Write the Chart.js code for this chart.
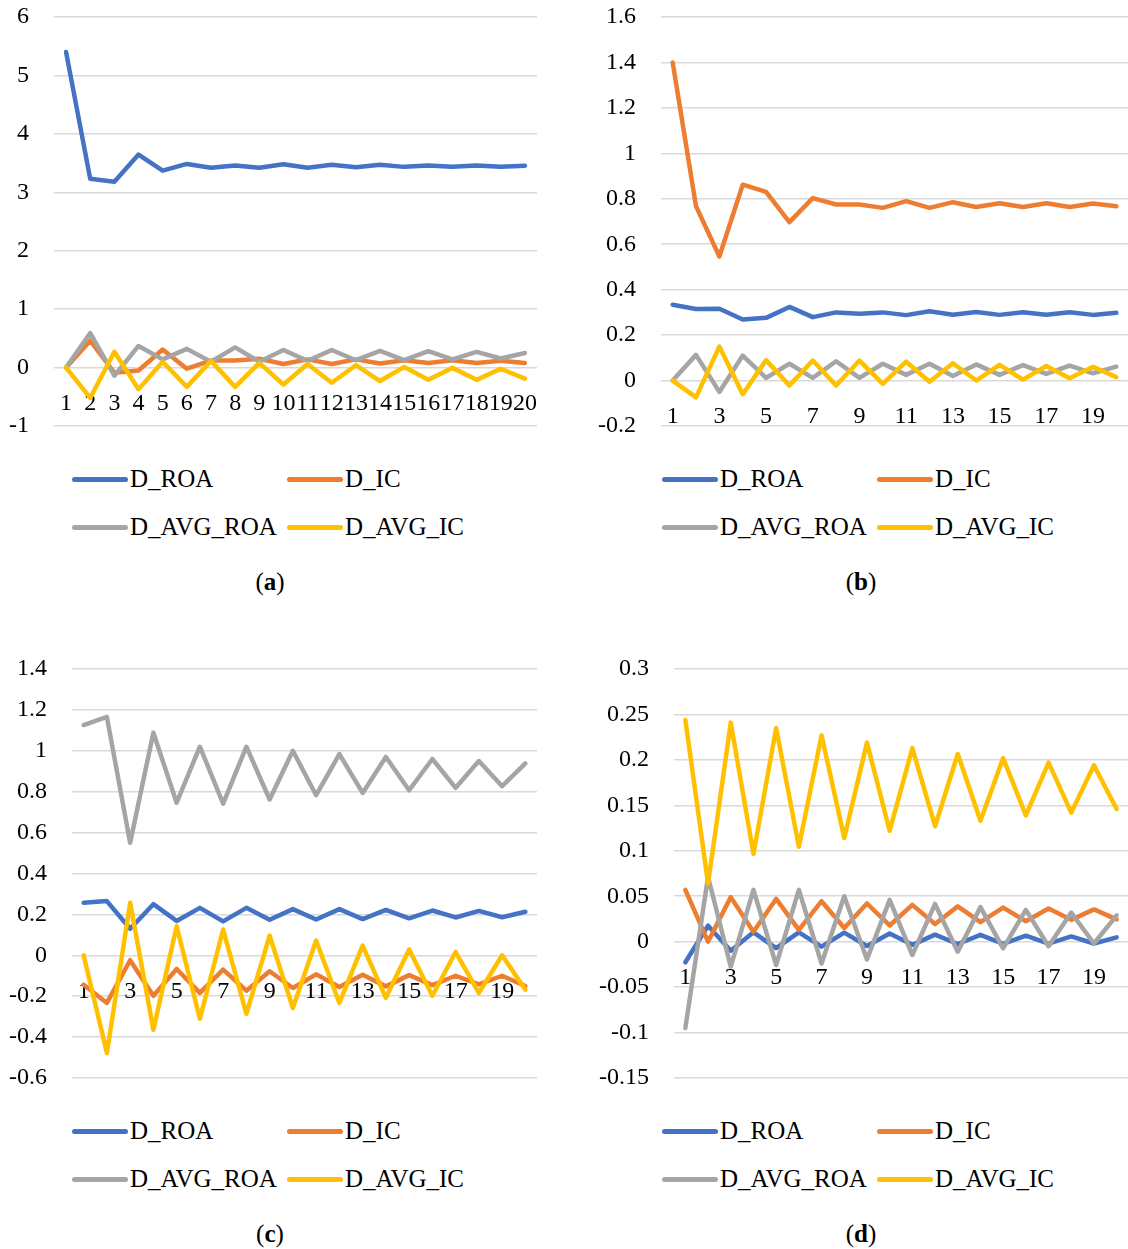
<!DOCTYPE html>
<html>
<head>
<meta charset="utf-8">
<script src="https://cdn.jsdelivr.net/npm/chart.js@4"></script>
<style>
  body { margin: 0; background: #fff; }
  #page { position: relative; width: 1128px; height: 1249px; overflow: hidden; font-family: "Liberation Serif", serif; color: #000; }
  canvas { position: absolute; }
  .leg { position: absolute; height: 30px; display: flex; align-items: center; font-size: 25px; white-space: nowrap; }
  .leg .ln { display: inline-block; width: 56px; height: 5px; border-radius: 3px; margin-right: 2px; }
  .cap { position: absolute; width: 100px; height: 30px; line-height: 30px; text-align: center; font-size: 25px; }
</style>
</head>
<body>
<div id="page">
  <canvas id="chartA" width="545" height="440" style="left:0;top:0"></canvas>
  <canvas id="chartB" width="538" height="440" style="left:590px;top:0"></canvas>
  <canvas id="chartC" width="545" height="440" style="left:0;top:650px"></canvas>
  <canvas id="chartD" width="538" height="440" style="left:590px;top:650px"></canvas>
</div>
<script>
const categories = ['1','2','3','4','5','6','7','8','9','10','11','12','13','14','15','16','17','18','19','20'];
const seriesNames = ['D_ROA', 'D_IC', 'D_AVG_ROA', 'D_AVG_IC'];
const seriesColors = ['#4472C4', '#ED7D31', '#A5A5A5', '#FFC000'];

// (a)
const aRoa    = [5.40, 3.23, 3.18, 3.645, 3.37, 3.485, 3.42, 3.46, 3.42, 3.48, 3.42, 3.47, 3.43, 3.47, 3.435, 3.46, 3.435, 3.46, 3.435, 3.455];
const aIc     = [0, 0.46, -0.09, -0.05, 0.31, -0.02, 0.12, 0.12, 0.15, 0.06, 0.14, 0.06, 0.14, 0.07, 0.125, 0.08, 0.125, 0.08, 0.115, 0.08];
const aAvgRoa = [0, 0.59, -0.14, 0.37, 0.14, 0.32, 0.1, 0.345, 0.1, 0.3, 0.115, 0.3, 0.126, 0.285, 0.126, 0.28, 0.14, 0.27, 0.155, 0.25];
const aAvgIc  = [0, -0.52, 0.27, -0.37, 0.1, -0.33, 0.115, -0.33, 0.08, -0.29, 0.06, -0.26, 0.04, -0.23, 0.01, -0.21, -0.005, -0.21, -0.02, -0.19];
const aYTicks = [-1, 0, 1, 2, 3, 4, 5, 6];

// (b)
const bRoa    = [0.334, 0.315, 0.316, 0.269, 0.276, 0.324, 0.279, 0.30, 0.294, 0.30, 0.288, 0.305, 0.29, 0.302, 0.289, 0.301, 0.29, 0.301, 0.289, 0.298];
const bIc     = [1.40, 0.767, 0.546, 0.862, 0.83, 0.697, 0.803, 0.775, 0.775, 0.76, 0.79, 0.76, 0.785, 0.764, 0.78, 0.764, 0.78, 0.764, 0.779, 0.767];
const bAvgRoa = [0, 0.113, -0.05, 0.11, 0.012, 0.074, 0.012, 0.085, 0.012, 0.074, 0.025, 0.074, 0.02, 0.071, 0.025, 0.068, 0.029, 0.066, 0.032, 0.061];
const bAvgIc  = [0, -0.074, 0.15, -0.06, 0.09, -0.022, 0.088, -0.022, 0.088, -0.015, 0.083, -0.005, 0.076, 0, 0.069, 0.004, 0.064, 0.01, 0.061, 0.015];
const bYTicks = [-0.2, 0, 0.2, 0.4, 0.6, 0.8, 1, 1.2, 1.4, 1.6];

// (c)
const cRoa    = [0.257, 0.265, 0.13, 0.25, 0.168, 0.232, 0.166, 0.232, 0.174, 0.226, 0.175, 0.226, 0.177, 0.222, 0.181, 0.219, 0.185, 0.217, 0.186, 0.213];
const cIc     = [-0.144, -0.233, -0.024, -0.198, -0.067, -0.184, -0.07, -0.173, -0.078, -0.16, -0.093, -0.155, -0.095, -0.152, -0.097, -0.146, -0.1, -0.142, -0.1, -0.15];
const cAvgRoa = [1.126, 1.166, 0.55, 1.088, 0.746, 1.02, 0.742, 1.02, 0.762, 1.0, 0.783, 0.984, 0.794, 0.97, 0.807, 0.96, 0.819, 0.95, 0.827, 0.938];
const cAvgIc  = [0, -0.478, 0.257, -0.364, 0.142, -0.31, 0.126, -0.286, 0.096, -0.258, 0.072, -0.233, 0.047, -0.208, 0.028, -0.198, 0.016, -0.184, 0.0, -0.168];
const cYTicks = [-0.6, -0.4, -0.2, 0, 0.2, 0.4, 0.6, 0.8, 1, 1.2, 1.4];

// (d)
const dRoa    = [-0.0227, 0.0176, -0.0099, 0.0103, -0.007, 0.0103, -0.0055, 0.0100, -0.0048, 0.009, -0.0035, 0.0077, -0.0026, 0.0075, -0.0024, 0.0066, -0.0022, 0.0058, -0.002, 0.0048];
const dIc     = [0.057, 0.0, 0.049, 0.011, 0.047, 0.013, 0.0445, 0.015, 0.042, 0.0178, 0.0405, 0.0195, 0.0388, 0.0215, 0.0375, 0.0225, 0.0365, 0.024, 0.0355, 0.0245];
const dAvgRoa = [-0.095, 0.0715, -0.0275, 0.057, -0.0257, 0.057, -0.024, 0.05, -0.0195, 0.046, -0.0147, 0.0415, -0.011, 0.038, -0.0073, 0.035, -0.005, 0.032, -0.002, 0.029];
const dAvgIc  = [0.244, 0.064, 0.241, 0.0965, 0.235, 0.1045, 0.227, 0.114, 0.219, 0.122, 0.213, 0.127, 0.2065, 0.133, 0.202, 0.139, 0.197, 0.142, 0.194, 0.146];
const dYTicks = [-0.15, -0.1, -0.05, 0, 0.05, 0.1, 0.15, 0.2, 0.25, 0.3];

const font = { family: '"Liberation Serif", serif', size: 24 };

function makeChart(id, series, yTicks, everyOther, yWidth, pad) {
  const datasets = seriesNames.map((name, i) => ({
    label: name,
    data: series[i],
    borderColor: seriesColors[i],
    backgroundColor: seriesColors[i],
    borderWidth: 4.5,
    borderCapStyle: 'round',
    borderJoinStyle: 'round',
    pointRadius: 0,
    tension: 0,
    fill: false,
    order: 3 - i
  }));
  return new Chart(document.getElementById(id), {
    type: 'line',
    data: { labels: categories, datasets: datasets },
    options: {
      responsive: false,
      animation: false,
      layout: { padding: pad },
      plugins: { legend: { display: false }, tooltip: { enabled: false } },
      scales: {
        x: {
          type: 'category',
          offset: true,
          position: { y: 0 },
          // labels sit under the zero line, so the axis takes no room of its own
          afterFit: s => { s.height = 0; s.paddingLeft = 0; s.paddingRight = 0; s.paddingTop = 0; s.paddingBottom = 0; },
          grid: { display: false, drawTicks: false },
          border: { display: false },
          ticks: {
            autoSkip: false, maxRotation: 0, minRotation: 0, padding: 22, color: '#000', font: font,
            callback: (v, i) => (everyOther && i % 2) ? '' : categories[i]
          }
        },
        y: {
          min: yTicks[0],
          max: yTicks[yTicks.length - 1],
          afterBuildTicks: s => { s.ticks = yTicks.map(v => ({ value: v })); },
          afterFit: s => { s.width = yWidth; s.paddingTop = 0; s.paddingBottom = 0; },
          grid: { color: '#d9d9d9', lineWidth: 1.5, drawTicks: false },
          border: { display: false },
          ticks: { padding: 25, color: '#000', font: font, callback: v => String(+v.toFixed(3)) }
        }
      }
    }
  });
}

const page = document.getElementById('page');

function addLegend(chart, x0, rowY) {
  chart.data.datasets.forEach((ds, i) => {
    const item = document.createElement('div');
    item.className = 'leg';
    item.style.left = (x0 + (i % 2) * 215) + 'px';
    item.style.top = (rowY[Math.floor(i / 2)] - 15) + 'px';
    const ln = document.createElement('span');
    ln.className = 'ln';
    ln.style.background = ds.borderColor;
    item.appendChild(ln);
    item.appendChild(document.createTextNode(ds.label));
    page.appendChild(item);
  });
}

function addCaption(letter, cx, cy) {
  const c = document.createElement('div');
  c.className = 'cap';
  c.style.left = (cx - 50) + 'px';
  c.style.top = (cy - 15) + 'px';
  c.innerHTML = '(<b>' + letter + '</b>)';
  page.appendChild(c);
}

const chartA = makeChart('chartA', [aRoa, aIc, aAvgRoa, aAvgIc], aYTicks, false, 54, { left: 0, right: 8, top: 17, bottom: 14 });
const chartB = makeChart('chartB', [bRoa, bIc, bAvgRoa, bAvgIc], bYTicks, true, 71, { left: 0, right: 0, top: 17, bottom: 14 });
const chartC = makeChart('chartC', [cRoa, cIc, cAvgRoa, cAvgIc], cYTicks, true, 72, { left: 0, right: 8, top: 19, bottom: 12 });
const chartD = makeChart('chartD', [dRoa, dIc, dAvgRoa, dAvgIc], dYTicks, true, 84, { left: 0, right: 0, top: 19, bottom: 12 });

addLegend(chartA, 72, [479, 527]);
addLegend(chartB, 662, [479, 527]);
addLegend(chartC, 72, [1131, 1179]);
addLegend(chartD, 662, [1131, 1179]);

addCaption('a', 270, 582);
addCaption('b', 861, 582);
addCaption('c', 270, 1234);
addCaption('d', 861, 1234);
</script>
</body>
</html>
